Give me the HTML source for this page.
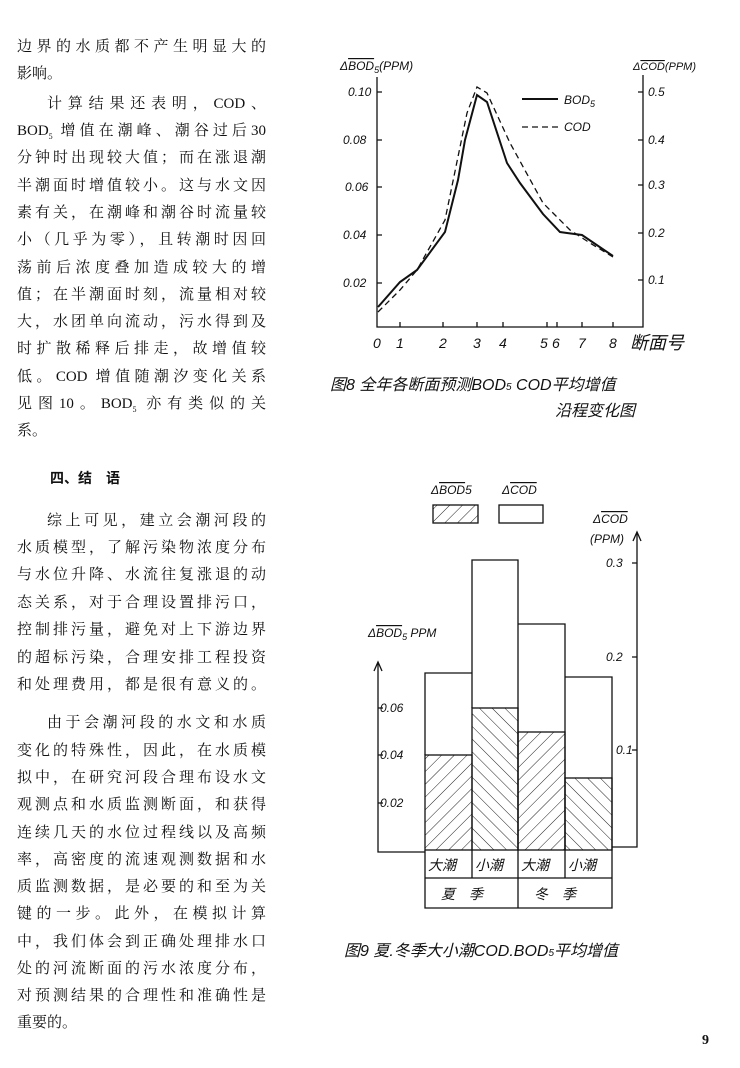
<!DOCTYPE html>
<html><head><meta charset="utf-8"><style>
body{margin:0;width:740px;height:1068px;background:#fff;position:relative;overflow:hidden;font-family:"Liberation Serif","Noto Serif CJK SC",serif;color:#111}
.l{position:absolute;left:17px;width:249px;font-size:15px;line-height:20px;text-align:justify;text-align-last:justify;white-space:nowrap}
.n{text-align-last:left}
.i{left:47px;width:219px}
svg{position:absolute;left:0;top:0}
svg text{font-family:"Liberation Sans","Noto Sans CJK SC",sans-serif;font-style:italic;fill:#111}
</style></head><body>
<div class="l" style="top:37px">边界的水质都不产生明显大的</div>
<div class="l n" style="top:64px">影响。</div>
<div class="l i" style="top:94px">计算结果还表明，COD、</div>
<div class="l" style="top:121px">BOD<sub style="font-size:8px">5</sub> 增值在潮峰、潮谷过后30</div>
<div class="l" style="top:148px">分钟时出现较大值；而在涨退潮</div>
<div class="l" style="top:176px">半潮面时增值较小。这与水文因</div>
<div class="l" style="top:203px">素有关，在潮峰和潮谷时流量较</div>
<div class="l" style="top:230px">小（几乎为零），且转潮时因回</div>
<div class="l" style="top:258px">荡前后浓度叠加造成较大的增</div>
<div class="l" style="top:285px">值；在半潮面时刻，流量相对较</div>
<div class="l" style="top:312px">大，水团单向流动，污水得到及</div>
<div class="l" style="top:339px">时扩散稀释后排走，故增值较</div>
<div class="l" style="top:367px">低。COD 增值随潮汐变化关系</div>
<div class="l" style="top:394px">见图10。BOD<sub style="font-size:8px">5</sub> 亦有类似的关</div>
<div class="l n" style="top:421px">系。</div>
<div class="l n" style="top:468px;left:50px;font-weight:bold;font-family:'Noto Sans CJK SC',sans-serif;font-size:14px">四、结　语</div>
<div class="l i" style="top:511px">综上可见，建立会潮河段的</div>
<div class="l" style="top:538px">水质模型，了解污染物浓度分布</div>
<div class="l" style="top:565px">与水位升降、水流往复涨退的动</div>
<div class="l" style="top:593px">态关系，对于合理设置排污口，</div>
<div class="l" style="top:620px">控制排污量，避免对上下游边界</div>
<div class="l" style="top:648px">的超标污染，合理安排工程投资</div>
<div class="l" style="top:675px">和处理费用，都是很有意义的。</div>
<div class="l i" style="top:713px">由于会潮河段的水文和水质</div>
<div class="l" style="top:741px">变化的特殊性，因此，在水质模</div>
<div class="l" style="top:768px">拟中，在研究河段合理布设水文</div>
<div class="l" style="top:795px">观测点和水质监测断面，和获得</div>
<div class="l" style="top:823px">连续几天的水位过程线以及高频</div>
<div class="l" style="top:850px">率，高密度的流速观测数据和水</div>
<div class="l" style="top:877px">质监测数据，是必要的和至为关</div>
<div class="l" style="top:904px">键的一步。此外，在模拟计算</div>
<div class="l" style="top:932px">中，我们体会到正确处理排水口</div>
<div class="l" style="top:959px">处的河流断面的污水浓度分布，</div>
<div class="l" style="top:986px">对预测结果的合理性和准确性是</div>
<div class="l n" style="top:1013px">重要的。</div>
<div style="position:absolute;left:702px;top:1033px;font-size:14px;font-weight:bold">9</div>

<svg width="740" height="1068" viewBox="0 0 740 1068">
<defs>
<pattern id="hf" width="9" height="9" patternUnits="userSpaceOnUse" patternTransform="rotate(45)"><line x1="0" y1="0" x2="0" y2="9" stroke="#222" stroke-width="1"/></pattern>
<pattern id="hb" width="9" height="9" patternUnits="userSpaceOnUse" patternTransform="rotate(-45)"><line x1="0" y1="0" x2="0" y2="9" stroke="#222" stroke-width="1"/></pattern>
</defs>
<g stroke="#111" fill="none" stroke-width="1.3">
<!-- chart 8 axes -->
<path d="M377 77 V327 H643 V75"/>
<path d="M377 92h5M377 140h5M377 187h5M377 235h5M377 283h5"/>
<path d="M643 92h-5M643 140h-5M643 185h-5M643 233h-5M643 280h-5"/>
<path d="M400 327v-5M443 327v-5M477 327v-5M503 327v-5M547 327v-5M557 327v-5M582 327v-5M613 327v-5"/>
<polyline stroke-width="2" points="378,307 400,282 417,270 445,232 458,180 465,140 477,95 487,102 507,163 520,183 543,214 560,232 567,233 582,235 613,256"/>
<polyline stroke-dasharray="6,4" points="378,312 400,290 417,270 445,220 467,113 477,87 487,93 510,143 543,203 570,230 590,243 613,257"/>
<line x1="522" y1="99" x2="558" y2="99" stroke-width="2"/>
<line x1="522" y1="127" x2="558" y2="127" stroke-dasharray="6,4"/>
</g>
<g font-size="12">
<text x="340" y="70">Δ<tspan text-decoration="overline">BOD</tspan><tspan font-size="9" dy="3">5</tspan><tspan dy="-3">(PPM)</tspan></text>
<text x="633" y="70" font-size="11">Δ<tspan text-decoration="overline">COD</tspan>(PPM)</text>
<text x="348" y="96">0.10</text><text x="343" y="144">0.08</text><text x="345" y="191">0.06</text><text x="343" y="239">0.04</text><text x="343" y="287">0.02</text>
<text x="648" y="96">0.5</text><text x="648" y="144">0.4</text><text x="648" y="189">0.3</text><text x="648" y="237">0.2</text><text x="648" y="284">0.1</text>
<text x="564" y="104">BOD<tspan font-size="9" dy="3">5</tspan></text><text x="564" y="131">COD</text>
<g font-size="14"><text x="373" y="348">0</text><text x="396" y="348">1</text><text x="439" y="348">2</text><text x="473" y="348">3</text><text x="499" y="348">4</text><text x="540" y="348">5</text><text x="552" y="348">6</text><text x="578" y="348">7</text><text x="609" y="348">8</text></g>
<text x="630" y="349" font-size="18" font-style="normal">断面号</text>
<text x="330" y="390" font-size="16" font-style="normal">图8 全年各断面预测BOD<tspan font-size="10">5</tspan> COD平均增值</text>
<text x="555" y="416" font-size="16" font-style="normal">沿程变化图</text>
</g>
<!-- chart 9 -->
<g stroke="#111" stroke-width="1.3">
<rect x="433" y="505" width="45" height="18" fill="url(#hf)"/>
<rect x="499" y="505" width="44" height="18" fill="#fff"/>
<rect x="425" y="755" width="47" height="95" fill="url(#hf)"/>
<rect x="472" y="708" width="46" height="142" fill="url(#hb)"/>
<rect x="518" y="732" width="47" height="118" fill="url(#hf)"/>
<rect x="565" y="778" width="47" height="72" fill="url(#hb)"/>
<g fill="none">
<path d="M425 755V673H472M472 708V560H518V850M518 732V624H565V850M565 778V677H612V850"/>
<path d="M637 533V847H612"/>
<path d="M637 563h-5M637 657h-5M637 750h-5"/>
<path d="M378 663V852H425"/>
<path d="M378 708h5M378 755h5M378 803h5"/>
<path d="M425 850V908H612V850M425 878H612M472 850V878M518 850V908M565 850V878"/>
<path d="M374 671l4-9 4 9M633 541l4-9 4 9"/>
</g></g>
<g font-size="12">
<text x="431" y="494">Δ<tspan text-decoration="overline">BOD</tspan>5</text>
<text x="502" y="494">Δ<tspan text-decoration="overline">COD</tspan></text>
<text x="593" y="523">Δ<tspan text-decoration="overline">COD</tspan></text>
<text x="590" y="543">(PPM)</text>
<text x="606" y="567">0.3</text><text x="606" y="661">0.2</text><text x="616" y="754">0.1</text>
<text x="368" y="637">Δ<tspan text-decoration="overline">BOD</tspan><tspan font-size="9" dy="3">5</tspan><tspan dy="-3"> PPM</tspan></text>
<text x="380" y="712">0.06</text><text x="380" y="759">0.04</text><text x="380" y="807">0.02</text>
<g font-size="14" font-style="normal"><text x="428" y="870">大潮</text><text x="475" y="870">小潮</text><text x="521" y="870">大潮</text><text x="568" y="870">小潮</text>
<text x="441" y="899">夏　季</text><text x="534" y="899">冬　季</text></g>
<text x="344" y="956" font-size="16" font-style="normal">图9 夏.冬季大小潮COD.BOD<tspan font-size="10">5</tspan>平均增值</text>
</g>
</svg>
</body></html>
